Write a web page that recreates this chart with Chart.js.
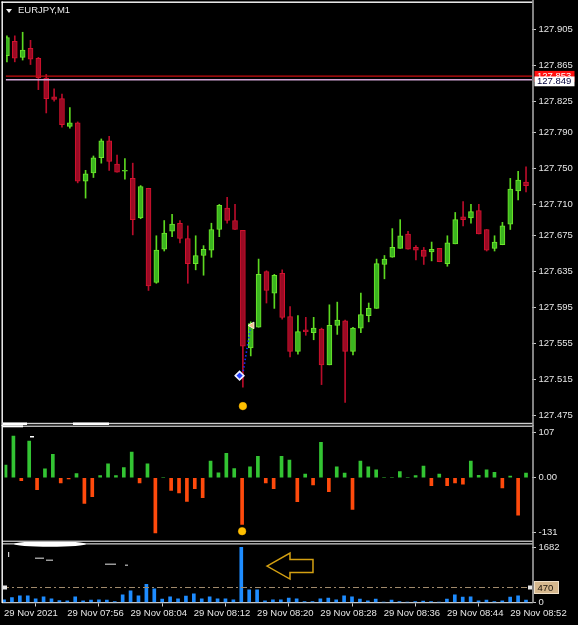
<!DOCTYPE html>
<html><head><meta charset="utf-8">
<script src="https://cdn.jsdelivr.net/npm/chart.js@4.4.0/dist/chart.umd.min.js"></script>
<style>
html,body{margin:0;padding:0;background:#000;}
#wrap{position:relative;width:578px;height:625px;background:#000;overflow:hidden}
canvas{position:absolute;left:0;display:block}
#title{position:absolute;left:18px;top:4px;color:#e8e8e8;font:9.5px "Liberation Sans",Arial,sans-serif;white-space:nowrap}
#tri{position:absolute;left:6px;top:9px;width:0;height:0;border-left:3.5px solid transparent;border-right:3.5px solid transparent;border-top:4px solid #f0f0f0}
</style></head><body>
<div id="wrap">
<canvas id="main" width="578" height="426" style="top:0"></canvas>
<canvas id="osc" width="578" height="117" style="top:425px"></canvas>
<canvas id="vol" width="578" height="83" style="top:542px"></canvas>
<div id="tri"></div><div id="title">EURJPY,M1</div>
</div>
<script>
// ---------- data ----------
const barTimes = ["07:48","07:49","07:50","07:51","07:52","07:53","07:54","07:55","07:56","07:57","07:58","07:59",
"08:00","08:01","08:02","08:03","08:04","08:05","08:06","08:07","08:08","08:09","08:10","08:11","08:12","08:13","08:14","08:15","08:16","08:17",
"08:18","08:19","08:20","08:21","08:22","08:23","08:24","08:25","08:26","08:27","08:28","08:29","08:30","08:31","08:32","08:33","08:34","08:35",
"08:36","08:37","08:38","08:39","08:40","08:41","08:42","08:43","08:44","08:45","08:46","08:47","08:48","08:49","08:50","08:51","08:52","08:53","08:54"];

const openP = [127.876,127.892,127.874,127.884,127.873,127.851,127.830,127.828,127.797,127.801,
127.736,127.745,127.762,127.781,127.755,127.747,127.739,127.695,127.728,127.623,
127.660,127.680,127.689,127.672,127.644,127.653,127.659,127.682,127.706,127.692,
127.681,127.550,127.573,127.635,127.611,127.633,127.585,127.546,127.570,127.567,
127.571,127.531,127.575,127.580,127.546,127.572,127.586,127.594,127.643,127.651,
127.661,127.677,127.662,127.659,127.657,127.661,127.644,127.666,127.696,127.695,
127.703,127.682,127.661,127.665,127.688,127.725,127.735];
const highP = [127.898,127.898,127.902,127.893,127.874,127.855,127.839,127.833,127.818,127.802,
127.748,127.764,127.783,127.786,127.765,127.761,127.756,127.731,127.728,127.675,
127.692,127.699,127.692,127.686,127.675,127.664,127.689,127.710,127.718,127.710,
127.681,127.579,127.649,127.636,127.632,127.637,127.596,127.586,127.584,127.584,
127.572,127.598,127.601,127.581,127.573,127.611,127.600,127.649,127.653,127.683,
127.693,127.680,127.664,127.662,127.668,127.661,127.675,127.701,127.713,127.710,
127.710,127.682,127.675,127.690,127.739,127.747,127.752];
const lowP = [127.869,127.869,127.871,127.866,127.838,127.812,127.825,127.796,127.795,127.734,
127.717,127.740,127.756,127.748,127.746,127.738,127.676,127.694,127.614,127.622,
127.658,127.674,127.667,127.622,127.637,127.631,127.651,127.674,127.689,127.682,
127.506,127.541,127.573,127.600,127.594,127.582,127.540,127.543,127.564,127.559,
127.509,127.531,127.565,127.489,127.542,127.567,127.579,127.594,127.627,127.651,
127.661,127.660,127.648,127.643,127.647,127.646,127.641,127.666,127.686,127.689,
127.677,127.658,127.658,127.665,127.682,127.715,127.724];
const closeP = [127.896,127.873,127.882,127.872,127.851,127.828,127.827,127.799,127.801,127.736,
127.744,127.762,127.781,127.758,127.746,127.748,127.693,127.730,127.619,127.659,
127.678,127.688,127.672,127.644,127.653,127.660,127.682,127.709,127.692,127.682,
127.552,127.577,127.632,127.614,127.631,127.584,127.546,127.568,127.568,127.572,
127.531,127.575,127.581,127.546,127.572,127.587,127.594,127.644,127.649,127.662,
127.675,127.660,127.659,127.652,127.660,127.646,127.667,127.693,127.693,127.702,
127.677,127.659,127.668,127.686,127.727,127.737,127.731];

const oscValues = [30,99,-7,87,-28,21,56,-12,-3,10,
-61,-45,5,33,5,24,61,-12,33,-131,
0,-30,-36,-56,-26,-47,40,12,58,22,
-111,26,51,-12,-26,51,42,-57,9,-17,
84,-33,26,11,-75,40,26,19,0,0,
15,0,5,28,-19,9,-19,-12,-15,40,
6,19,13,-24,4,-89,11];

const volumes = [81,152,203,203,111,172,111,61,51,172,
51,71,81,71,30,233,355,203,557,415,
101,172,111,192,263,111,172,111,111,81,
1682,385,385,51,81,81,132,111,30,30,
111,132,81,203,172,101,51,101,10,71,
30,10,30,40,30,10,101,233,162,172,
51,71,30,51,162,203,71];

const priceTicks = [127.905,127.865,127.825,127.790,127.750,127.710,127.675,127.635,127.595,127.555,127.515,127.475];
const oscTicks = [107,0,-131];
const volTicks = [1682,0];
const timeTickAt = ["07:48","07:56","08:04","08:12","08:20","08:28","08:36","08:44","08:52"];
const timeTickText = ["29 Nov 2021","29 Nov 07:56","29 Nov 08:04","29 Nov 08:12","29 Nov 08:20","29 Nov 08:28","29 Nov 08:36","29 Nov 08:44","29 Nov 08:52"];

const askLevel = 127.853;
const bidLevel = 127.849;
const volumeLevel = 470;
const signalCross = [{x:29.58, y:127.519}];
const signalPath = [{x:30.05, y:127.524},{x:30.97, y:127.573}];
const signalTriangle = [{x:31.16, y:127.575}];
const signalDotPrice = [{x:30, y:127.485}];
const signalDotOsc = [{x:30, y:-127}];
const arrowTip = {x:33.25, y:1110};

// view range (bar index) and value ranges
const viewFirst = -0.13, viewLast = 66.76;
const priceMin = 127.4694, priceMax = 127.9314;
const oscMin = -142, oscMax = 114.8;
const volMin = 0, volMax = 1783;

// ---------- styling ----------
const FONT = '"Liberation Sans", Arial, sans-serif';
Chart.defaults.font.family = FONT;
Chart.defaults.font.size = 9.5;
Chart.defaults.color = '#e6e6e6';

const isBull = closeP.map((c,i)=> c >= openP[i]);
const bodyFill = isBull.map(b => b ? '#3bb51f' : '#9a0a24');
const bodyEdge = isBull.map(b => b ? '#6ee62c' : '#d4122e');
const wickCol = isBull.map(b => b ? '#5cd820' : '#b80c2a');

const candleBodies = barTimes.map((t,i)=>({x:i, y:[openP[i], closeP[i]]}));
const candleWicks = barTimes.map((t,i)=>({x:i, y:[lowP[i], highP[i]]}));

const hiddenX = {type:'linear', min:viewFirst, max:viewLast, offset:false, display:false, grid:{display:false}};
const axisFont = {size:9.5, lineHeight:0.5};
function rightAxis(extra){
  return Object.assign({
    position:'right', offset:false,
    afterFit: s => { s.width = 46; s.paddingTop = 0; s.paddingBottom = 0; },
    border:{display:false},
    grid:{display:true, drawOnChartArea:false, drawTicks:true, tickLength:4, color:'#c8c8c8', tickWidth:1}
  }, extra);
}
const common = {responsive:false, animation:false, events:[], plugins:{legend:{display:false}, tooltip:{enabled:false}}};

function axisLine(g, h){ g.fillStyle='#a4a4a4'; g.fillRect(532.2, 0, 1.6, h); }

// ---------- main chart ----------
const mainFrame = {id:'mainFrame',
  afterDatasetsDraw(c){
    const g=c.ctx, a=c.chartArea, y=c.scales.y;
    g.save();
    const yr = y.getPixelForValue(askLevel), yb = y.getPixelForValue(bidLevel);
    g.lineWidth=1.3;
    g.strokeStyle='#c80e0e'; g.beginPath(); g.moveTo(a.left,yr); g.lineTo(a.right,yr); g.stroke();
    g.strokeStyle='#d4a6d6'; g.beginPath(); g.moveTo(a.left,yb); g.lineTo(a.right,yb); g.stroke();
    g.restore();
  },
  afterDraw(c){
    const g=c.ctx, y=c.scales.y;
    g.save();
    g.fillStyle='#ffffff'; g.fillRect(1.5,1.5,531,1.4); g.fillRect(1.5,1.5,1.4,425);
    g.fillStyle='#cfcfcf'; g.fillRect(2,422.8,531,1.4);
    g.fillStyle='#ffffff'; g.fillRect(3,422.5,24,2.5); g.fillRect(73,422.5,36,2.5);
    axisLine(g, 426);
    const yr = y.getPixelForValue(askLevel), yb = y.getPixelForValue(bidLevel);
    g.font = '9.5px ' + FONT; g.textBaseline='middle'; g.textAlign='left';
    g.fillStyle='#ff1010'; g.fillRect(534.5, yr-5.3, 40, 11);
    g.fillStyle='#ffffff'; g.fillText(askLevel.toFixed(3), 537, yr+0.5);
    g.fillStyle='#ffffff'; g.fillRect(534.5, yb-3.3, 40, 9.8);
    g.fillStyle='#00003a'; g.fillText(bidLevel.toFixed(3), 537, yb+1.7);
    g.restore();
  }
};

new Chart(document.getElementById('main'), {
  type:'bar',
  data:{datasets:[
    {type:'line', data:signalPath, borderColor:'#1a2dff', borderWidth:1.6, borderDash:[1.5,2.2], pointRadius:0, order:1},
    {type:'line', data:signalCross, showLine:false, pointStyle:'rectRot', pointRadius:4.3, backgroundColor:'#1f3cff', borderColor:'#eef0ff', borderWidth:1.6, order:0},
    {type:'line', data:signalTriangle, showLine:false, pointStyle:'triangle', rotation:-90, pointRadius:3.8, backgroundColor:'#f0c08a', borderColor:'#fff2dc', borderWidth:1, order:0},
    {type:'line', data:signalDotPrice, showLine:false, pointStyle:'circle', pointRadius:3.8, backgroundColor:'#ffc000', borderColor:'#ffb800', borderWidth:0.5, order:0},
    {data:candleWicks, backgroundColor:wickCol, barThickness:1, grouped:false, order:4},
    {data:candleBodies, backgroundColor:bodyFill, borderColor:bodyEdge, borderWidth:1, borderSkipped:false, barThickness:5, grouped:false, minBarLength:1, order:3}
  ]},
  options:Object.assign({}, common, {
    layout:{padding:{left:3, top:3, bottom:3, right:0}},
    scales:{
      x: hiddenX,
      y: rightAxis({min:priceMin, max:priceMax,
        afterBuildTicks: s => { s.ticks = priceTicks.map(v=>({value:v})); },
        ticks:{padding:2.5, color:'#e6e6e6', font:axisFont, autoSkip:false, callback: v => Number(v).toFixed(3)}})
    }
  }),
  plugins:[mainFrame]
});

// ---------- oscillator ----------
const oscFrame = {id:'oscFrame',
  afterDraw(c){
    const g=c.ctx; g.save();
    g.fillStyle='#c8c8c8'; g.fillRect(2,0.6,531,1.3); g.fillRect(2,115.6,531,1.3);
    g.fillStyle='#ffffff'; g.fillRect(1.5,0,1.4,117);
    g.fillRect(3,0.3,20,2); g.fillRect(30,11,4,1.5);
    axisLine(g, 117);
    g.restore();
  }
};
new Chart(document.getElementById('osc'), {
  type:'bar',
  data:{datasets:[
    {type:'line', data:signalDotOsc, showLine:false, pointStyle:'circle', pointRadius:3.8, backgroundColor:'#ffc000', borderColor:'#ffb800', borderWidth:0.5, order:0},
    {data:oscValues.map((v,i)=>({x:i, y:v})), backgroundColor:oscValues.map(v=> v>=0 ? '#33c433' : '#ff4a0c'), barThickness:3, grouped:false, order:1}
  ]},
  options:Object.assign({}, common, {
    layout:{padding:{left:3, top:3, bottom:1.5, right:0}},
    scales:{
      x: hiddenX,
      y: rightAxis({min:oscMin, max:oscMax,
        afterBuildTicks: s => { s.ticks = oscTicks.map(v=>({value:v})); },
        ticks:{padding:2.5, color:'#e6e6e6', font:axisFont, autoSkip:false, callback: v => v === 0 ? '0.00' : String(v)}})
    }
  }),
  plugins:[oscFrame]
});

// ---------- volume ----------
const volFrame = {id:'volFrame',
  afterDatasetsDraw(c){
    const g=c.ctx, a=c.chartArea, y=c.scales.y, x=c.scales.x;
    g.save();
    const yl = Math.round(y.getPixelForValue(volumeLevel))+0.5;
    g.strokeStyle='#a08a6c'; g.lineWidth=1.2; g.setLineDash([6,3,2,3]);
    g.beginPath(); g.moveTo(a.left,yl); g.lineTo(a.right,yl); g.stroke();
    g.setLineDash([]);
    g.fillStyle='#e8e8e8'; g.fillRect(3,yl-2,4,4); g.fillRect(528,yl-2,4,4);
    // arrow annotation
    const tx = x.getPixelForValue(arrowTip.x), ty = y.getPixelForValue(arrowTip.y);
    const pts=[[0,0],[23,-13],[23,-6.5],[46,-6.5],[46,6.5],[23,6.5],[23,13]];
    g.strokeStyle='#d4a012'; g.lineWidth=1.5; g.beginPath();
    pts.forEach((p,i)=>{ i? g.lineTo(tx+p[0],ty+p[1]) : g.moveTo(tx+p[0],ty+p[1]); });
    g.closePath(); g.stroke();
    g.restore();
  },
  afterDraw(c){
    const g=c.ctx, y=c.scales.y; g.save();
    g.fillStyle='#c8c8c8'; g.fillRect(2,1.2,531,1.3);
    g.fillStyle='#ffffff'; g.fillRect(1.5,0,1.4,61);
    g.beginPath(); g.ellipse(50,2,36,2.8,0,0,Math.PI*2); g.fill();
    g.fillStyle='#9a9a9a'; g.fillRect(35,15.5,9,1.5); g.fillRect(46,17.5,7,1.5); g.fillRect(105,21.5,11,1.5); g.fillRect(125,22.5,3,1.5);
    g.fillStyle='#cfcfcf'; g.fillRect(8,10,1.2,5);
    axisLine(g, 61);
    const yl = Math.round(y.getPixelForValue(volumeLevel))+0.5;
    g.fillStyle='#d6b88e'; g.fillRect(534.5, yl-6, 24, 12);
    g.strokeStyle='#f0e0c8'; g.lineWidth=1; g.strokeRect(534.5, yl-6, 24, 12);
    g.fillStyle='#1a1208'; g.font='9.5px '+FONT; g.textBaseline='middle'; g.textAlign='left';
    g.fillText(String(volumeLevel), 537.5, yl+0.5);
    g.restore();
  }
};
new Chart(document.getElementById('vol'), {
  type:'bar',
  data:{datasets:[
    {data:volumes.map((v,i)=>({x:i, y:v})), backgroundColor:'#1e8cff', barThickness:3, grouped:false}
  ]},
  options:Object.assign({}, common, {
    layout:{padding:{left:3, top:2, bottom:0, right:0}},
    scales:{
      x:{type:'linear', min:viewFirst, max:viewLast, offset:false, position:'bottom',
        afterFit: s => { s.height = 22.5; s.paddingLeft = 0; s.paddingRight = 0; },
        afterBuildTicks: s => { s.ticks = timeTickAt.map(t=>({value: barTimes.indexOf(t)})); },
        border:{display:true, color:'#c8c8c8', width:1.3},
        grid:{display:true, drawOnChartArea:false, drawTicks:true, tickLength:4, color:'#c8c8c8'},
        ticks:{align:'start', maxRotation:0, autoSkip:false, padding:1.5, color:'#e6e6e6',
          callback: v => timeTickText[timeTickAt.indexOf(barTimes[v])] }},
      y: rightAxis({min:volMin, max:volMax,
        afterBuildTicks: s => { s.ticks = volTicks.map(v=>({value:v})); },
        ticks:{padding:2.5, color:'#e6e6e6', font:axisFont, autoSkip:false, callback: v => String(v)}})
    }
  }),
  plugins:[volFrame]
});
</script>
</body></html>
